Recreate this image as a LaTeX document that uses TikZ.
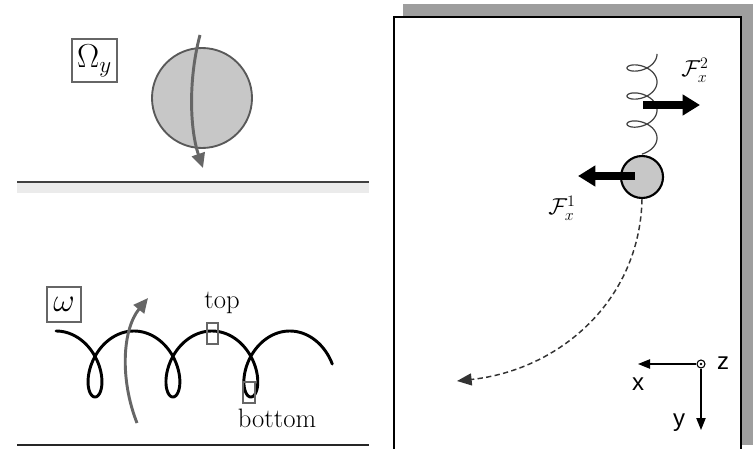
\documentclass[tikz,border=0pt]{standalone}
\usepackage{fontspec}
\newfontfamily\axisfont{Liberation Sans}
\usetikzlibrary{arrows.meta}
\begin{document}
\begin{tikzpicture}[x=0.75pt,y=-0.75pt,
  framebox/.style={draw=black!60, line width=1.1pt, inner sep=0pt},
  marker/.style={draw=black!60, line width=0.9pt, inner sep=0pt, minimum width=8.25pt, minimum height=15.75pt},
  spin/.style={draw=black!60, line width=2.2pt, -{Triangle[length=11pt,width=10pt]}},
  force/.style={line width=6pt, -{Triangle[length=13pt,width=15pt]}},
  axisarrow/.style={line width=0.9pt, -{Triangle[length=9pt,width=7pt]}},
  lbl/.style={font=\fontsize{20}{24}\selectfont, inner sep=0pt},
  axislbl/.style={font=\axisfont\fontsize{18}{20}\selectfont, inner sep=0pt},
  forcelbl/.style={font=\fontsize{17}{19}\selectfont, inner sep=0pt},
]
\useasboundingbox (0,0) rectangle (753,449);

% ---- upper left: spinning ball above the floor ----
\fill[black!8] (17,183) rectangle (369,193);
\draw[black!75, line width=1.6pt] (17,182) -- (369,182);
\node[framebox, minimum width=33.75pt, minimum height=32.25pt,
      font=\fontsize{25}{28}\selectfont] (omy) at (94.5,60.5) {$\Omega_y$};
\node[circle, fill=black!22, draw=black!65, line width=1.4pt,
      minimum size=75pt, inner sep=0pt] (ball) at (202,98) {};
\coordinate (spintop) at (200,35);
\coordinate (spinbot) at (203,168);
\draw[spin] (spintop) .. controls (188,80) and (190,130) .. (spinbot);

% ---- lower left: looping trajectory ----
\draw[line width=2.2pt, line cap=round]
  plot[variable=\t, domain=-3.1416:17.28, samples=300, smooth]
  ({95+12.4*\t-23*sin(\t r)},{364+33*cos(\t r)});
\node[framebox, minimum width=25.5pt, minimum height=26.25pt,
      font=\fontsize{28}{30}\selectfont] (om) at (64,304.5) {$\omega$};
\coordinate (rotbot) at (137,423);
\coordinate (rottop) at (148,298);
\draw[spin] (rotbot) .. controls (120,380) and (122,330) .. (rottop);
\node[marker] (topbox) at (212.5,333.5) {};
\node[marker, minimum width=9pt] (botbox) at (249,392.5) {};
\node[lbl] (toplbl) at (222,303) {top};
\node[lbl] (botlbl) at (277,418) {bottom};
\draw[black!85, line width=1.6pt] (17,445) -- (369,445);

% ---- right: bead on a helical spring, with forces ----
\fill[black!38] (403,4) rectangle (753,445);
\filldraw[fill=white, draw=black, line width=2pt]
  (394,455) -- (394,17) -- (741,17) -- (741,455);
\draw[black!75, line width=0.9pt]
  plot[variable=\t, domain=-3.1416:17.28, samples=250, smooth]
  ({642-15*cos(\t r)},{68+4.46*\t-9*sin(\t r)});
\node[circle, fill=black!22, draw=black, line width=1.6pt,
      minimum size=31.5pt, inner sep=0pt] (bead) at (642,177) {};
\coordinate (f2s) at (643,105);
\coordinate (f2e) at (700,105);
\draw[force] (f2s) -- (f2e);
\coordinate (f1s) at (635,176);
\coordinate (f1e) at (578,176);
\draw[force] (f1s) -- (f1e);
\node[forcelbl] (f2lbl) at (695,70) {$\mathcal{F}_x^2$};
\node[forcelbl] (f1lbl) at (562,208) {$\mathcal{F}_x^1$};

\coordinate (traj) at (457,381);
\draw[black!80, line width=1.1pt, dash pattern=on 4pt off 2.5pt,
      -{Triangle[length=11pt,width=9pt]}]
  (bead.south) .. controls (640,300) and (560,370) .. (traj);

% coordinate axes (z out of the page)
\node[circle, draw, line width=0.8pt, minimum size=6pt, inner sep=0pt] (orig) at (701,364) {};
\fill (orig) circle (1pt);
\coordinate (xend) at (638,364);
\coordinate (yend) at (701,430);
\draw[axisarrow] (orig.west) -- (xend);
\draw[axisarrow] (orig.south) -- (yend);
\node[axislbl] (zlbl) at (723,363) {z};
\node[axislbl] (xlbl) at (638,384) {x};
\node[axislbl] (ylbl) at (679,423) {y};
\end{tikzpicture}
\end{document}
